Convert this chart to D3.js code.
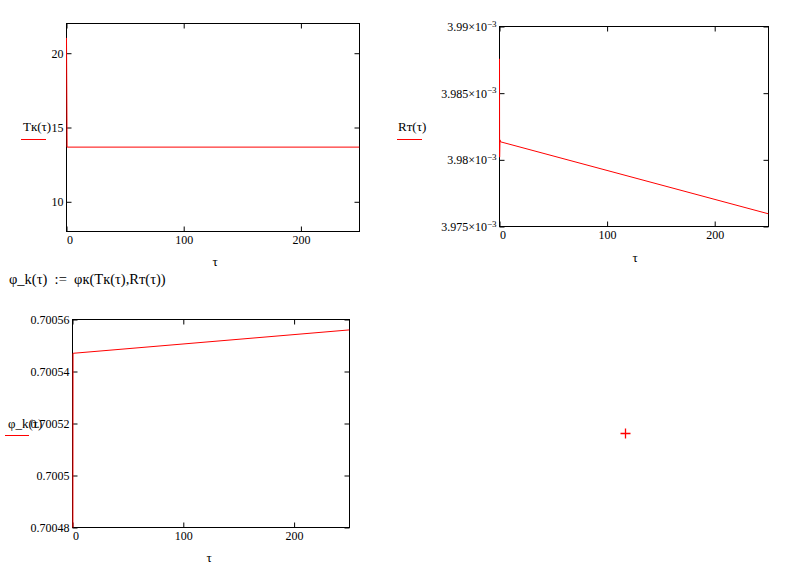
<!DOCTYPE html>
<html>
<head>
<meta charset="utf-8">
<script src="https://cdn.jsdelivr.net/npm/d3@7"></script>
<style>
  body { margin: 0; background: #fff; }
  svg text { font-family: "Liberation Serif", "Times New Roman", serif; fill: #000; }
  .frame { fill: none; stroke: #000; stroke-width: 1; }
  .tick line { stroke: #000; }
  .domain { display: none; }
  .curve { fill: none; stroke: #ff0000; stroke-width: 1; }
</style>
</head>
<body>
<svg id="sheet" width="788" height="571"></svg>
<script>
// values
var tauT = [0, 0.5, 250];
var Tk = [21.03, 13.68, 13.68];
var tickT = [10, 15, 20];

var tauR = [0, 0.1, 0.4, 1, 250];
var Rt = [3.98758e-3, 3.98020e-3, 3.98150e-3, 3.98135e-3, 3.97595e-3];
var tickR = [3.975e-3, 3.98e-3, 3.985e-3, 3.99e-3];

var tauPhi = [0, 0.5, 250];
var phi = [0.70030, 0.700547, 0.700556];
var tickPhi = [0.70048, 0.7005, 0.70052, 0.70054, 0.70056];

var tickTau = [0, 100, 200];

var svg = d3.select("#sheet");
var fs = 12, fl = 13;

function drawPlot(opt) {
    var g = svg.append("g");
    var x = d3.scaleLinear().domain([0, 250]).range([opt.x0, opt.x1]);
    var y = d3.scaleLinear().domain(opt.yDomain).range([opt.y1, opt.y0]);

    var id = "clip" + opt.name;
    g.append("clipPath").attr("id", id).append("rect")
        .attr("x", opt.x0 - 1).attr("y", opt.y0)
        .attr("width", opt.x1 - opt.x0 + 1).attr("height", opt.y1 - opt.y0);

    g.append("rect").attr("class", "frame")
        .attr("x", opt.x0).attr("y", opt.y0)
        .attr("width", opt.x1 - opt.x0).attr("height", opt.y1 - opt.y0);

    // inward ticks on all four sides
    var yl = g.append("g").attr("transform", "translate(" + opt.x0 + ",0)")
        .call(d3.axisLeft(y).tickValues(opt.yTicks).tickSize(-5).tickPadding(3).tickFormat(opt.fmt));
    yl.selectAll("text").style("font-size", fs + "px");
    g.append("g").attr("transform", "translate(" + opt.x1 + ",0)")
        .call(d3.axisRight(y).tickValues(opt.yTicks).tickSize(-5).tickFormat(""));
    var xb = g.append("g").attr("transform", "translate(0," + opt.y1 + ")")
        .call(d3.axisBottom(x).tickValues(tickTau).tickSize(-5).tickPadding(4).tickFormat(d3.format("d")));
    xb.selectAll("text").style("font-size", fs + "px")
        .attr("dx", function(d){ return d == 0 ? 3 : 0 });
    g.append("g").attr("transform", "translate(0," + opt.y0 + ")")
        .call(d3.axisTop(x).tickValues(tickTau).tickSize(-5).tickFormat(""));

    if (opt.sup) {
        yl.selectAll("text").each(function(d){
            var t = d3.select(this).text("");
            t.append("tspan").text(opt.fmt(d));
            t.append("tspan").attr("dy", "-0.45em").style("font-size", "9px").text("\u22123");
        });
    }

    var line = d3.line().x(function(d){ return x(d[0]) }).y(function(d){ return y(d[1]) });
    g.append("path")
        .datum(d3.zip(opt.xs, opt.ys))
        .attr("class", "curve")
        .attr("clip-path", "url(#" + id + ")")
        .attr("d", line);

    // trace name with its legend stroke
    g.append("text").attr("x", opt.lx).attr("y", opt.ly)
        .style("font-size", fl + "px").text(opt.label);
    g.append("line").attr("x1", opt.ux0).attr("x2", opt.ux1)
        .attr("y1", opt.uy).attr("y2", opt.uy)
        .attr("stroke", "#ff0000");

    g.append("text").attr("x", opt.tx).attr("y", opt.ty)
        .attr("text-anchor", "middle").style("font-size", fl + "px").text("\u03c4");
}

drawPlot({
    name: "T", x0: 66.5, x1: 359.5, y0: 23.5, y1: 231.5,
    yDomain: [8, 22], yTicks: tickT, fmt: d3.format("d"),
    xs: tauT, ys: Tk,
    label: "T\u043a(\u03c4)", lx: 23, ly: 131, ux0: 21, ux1: 46, uy: 139.5,
    tx: 215, ty: 266
});

drawPlot({
    name: "R", x0: 499.5, x1: 768.5, y0: 26.5, y1: 226.5,
    yDomain: [3.975e-3, 3.99e-3], yTicks: tickR, sup: true,
    fmt: function(d){ return d3.format("")(+(d * 1e3).toFixed(3)) + "\u00d710" },
    xs: tauR, ys: Rt,
    label: "R\u0442(\u03c4)", lx: 398, ly: 131, ux0: 397, ux1: 422, uy: 139.5,
    tx: 635, ty: 262
});

drawPlot({
    name: "P", x0: 72.5, x1: 349.5, y0: 319.5, y1: 527.5,
    yDomain: [0.70048, 0.70056], yTicks: tickPhi,
    fmt: function(d){ return d3.format("")(+d.toFixed(5)) },
    xs: tauPhi, ys: phi,
    label: "\u03c6_k(\u03c4)", lx: 8, ly: 428, ux0: 5, ux1: 29, uy: 435.5,
    tx: 209, ty: 562
});

// worksheet definition line
svg.append("text").attr("x", 9).attr("y", 284).style("font-size", "14.5px")
    .attr("xml:space", "preserve")
    .text("\u03c6_k(\u03c4)  :=  \u03c6\u043a(T\u043a(\u03c4),R\u0442(\u03c4))");

// insertion cross
svg.append("path")
    .attr("d", "M620.5,433.5H630.5M625.5,428.5V438.5")
    .attr("stroke", "#ff0000").attr("stroke-width", 1.3).attr("fill", "none");
</script>
</body>
</html>
